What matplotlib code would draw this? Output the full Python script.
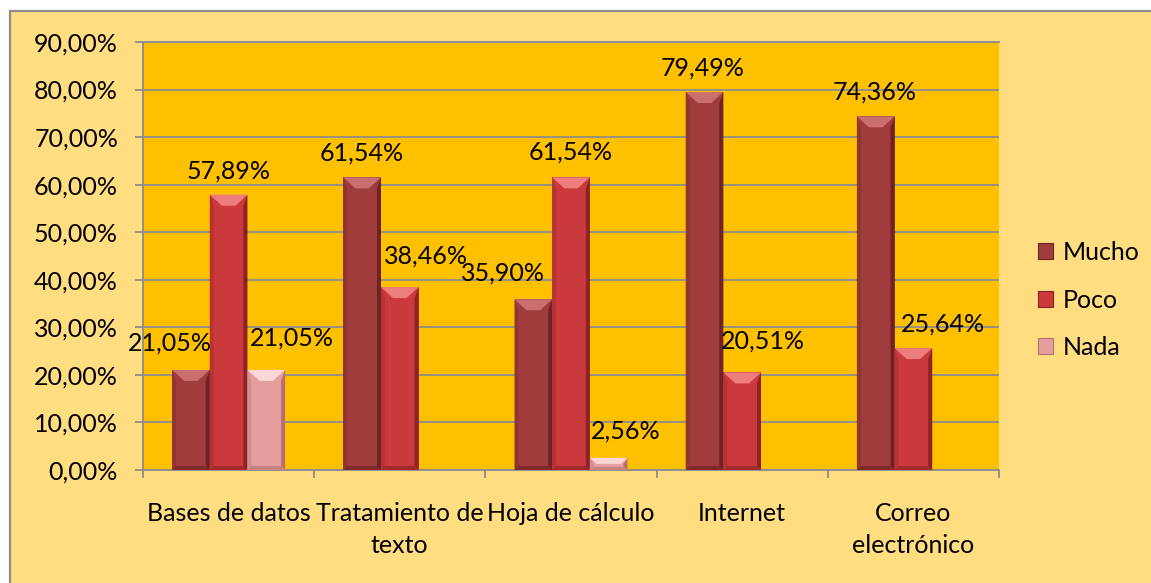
import matplotlib.pyplot as plt
from matplotlib.patches import Rectangle, Polygon, Patch
import numpy as np

# data (percent)
categories = ["Bases de datos", "Tratamiento de\ntexto", "Hoja de cálculo", "Internet", "Correo\nelectrónico"]
series = ["Mucho", "Poco", "Nada"]
mucho = [21.05, 61.54, 35.90, 79.49, 74.36]
poco = [57.89, 38.46, 61.54, 20.51, 25.64]
nada = [21.05, None, 2.56, None, None]
values = [mucho, poco, nada]

# styles
face = ["#A03C3C", "#CA393B", "#E49E9D"]
top_col = ["#CB6E6E", "#EE7D7D", "#FAD6D6"]
left_col = ["#903434", "#B83234", "#D48E8E"]
right_col = ["#6E2222", "#8E2223", "#B87070"]
bottom_col = ["#7E2A2A", "#A02A2B", "#C88080"]
# label offsets in pixels (dx, dy above bar top)
label_off = [
    [(-21, 29), (0, 26), (-30, 28), (-2, 26), (-1, 26)],
    [(0, 26), (26, 33), (0, 27), (21, 33), (30, 26)],
    [(26, 34), None, (17, 29), None, None],
]

FS = 18
plt.rcParams['font.family'] = ['Lato', 'DejaVu Sans']
W, H = 1151, 583
fig = plt.figure(figsize=(W / 100, H / 100), dpi=100, facecolor="white")

# outer chart border
fig.patches.append(Rectangle((9.5 / W, -0.1), 1.2, 1 - 11.5 / H + 0.1, transform=fig.transFigure,
                             facecolor="#FFDD80", edgecolor="#8C8C8C", linewidth=1.6, zorder=-10))

ax_l, ax_r, ax_b, ax_t = 143, 999, 470, 42
ax = fig.add_axes([ax_l / W, 1 - ax_b / H, (ax_r - ax_l) / W, (ax_b - ax_t) / H])
ax.set_facecolor("#FFC000")
ax.set_xlim(-0.5, 4.5)
ax.set_ylim(0, 90)
ux = 5.0 / (ax_r - ax_l)
uy = 90.0 / (ax_b - ax_t)

bw = 0.22
x = np.arange(len(categories))
for k, (name, vals) in enumerate(zip(series, values)):
    for i, v in enumerate(vals):
        if v is None:
            continue
        xc = x[i] + (k - 1) * bw
        bars = ax.bar(xc, v, width=bw, color=face[k], edgecolor="none", zorder=3)
        r = bars[0]
        x0, x1 = r.get_x(), r.get_x() + r.get_width()
        y0, y1 = 0, r.get_height()
        b = min(11 * uy, (y1 - y0) / 2)
        bi = b / uy * 1.1 * ux
        s = 4 * ux
        sb = min(4 * uy, (y1 - y0) / 4)
        # bevel pieces
        ax.add_patch(Polygon([(x0, y0), (x0 + s, y0 + sb), (x0 + s, y1 - b), (x0, y1)],
                             closed=True, color=left_col[k], lw=0, zorder=4))
        ax.add_patch(Polygon([(x1, y0), (x1 - s, y0 + sb), (x1 - s, y1 - b), (x1, y1)],
                             closed=True, color=right_col[k], lw=0, zorder=4))
        ax.add_patch(Polygon([(x0, y0), (x1, y0), (x1 - s, y0 + sb), (x0 + s, y0 + sb)],
                             closed=True, color=bottom_col[k], lw=0, zorder=4))
        ax.add_patch(Polygon([(x0, y1), (x1, y1), (x1 - bi, y1 - b), (x0 + bi, y1 - b)],
                             closed=True, color=top_col[k], lw=0, zorder=4))
        dx, dy = label_off[k][i]
        ax.annotate(f"{v:.2f}%".replace(".", ","), (xc, v), xytext=(dx, dy - 2),
                    textcoords="offset pixels", ha="center", va="center",
                    fontsize=FS, color="black", zorder=5)

# grid and axes
ax.set_yticks(np.arange(0, 91, 10))
ax.set_yticklabels([f"{t:.2f}%".replace(".", ",") for t in np.arange(0, 91, 10)], fontsize=FS)
ax.yaxis.grid(True, color="#8C8C8C", linewidth=1.3, zorder=1)
ax.set_axisbelow(True)
ax.tick_params(axis="y", length=6, width=1.3, color="#8C8C8C", pad=12)

ax.set_xticks(x)
ax.set_xticklabels(categories, fontsize=FS, linespacing=1.5)
ax.set_xticks(np.arange(-0.5, 4.6, 1), minor=True)
ax.tick_params(axis="x", which="major", length=0, pad=23)
ax.tick_params(axis="x", which="minor", length=6, width=1.3, color="#8C8C8C")

for sp in ["right"]:
    ax.spines[sp].set_visible(False)
for sp in ["left", "bottom", "top"]:
    ax.spines[sp].set_color("#8C8C8C")
    ax.spines[sp].set_linewidth(1.3)

handles = [Patch(facecolor=face[k], edgecolor=right_col[k], linewidth=0.8) for k in range(3)]
fig.legend(handles, series, loc="center left", bbox_to_anchor=(1038 / W, 1 - 300 / H),
           frameon=False, fontsize=FS, handlelength=0.6, handleheight=0.6,
           handletextpad=0.4, labelspacing=0.98, borderpad=0, borderaxespad=0)

fig.savefig("out.png", dpi=100, facecolor=fig.get_facecolor())
